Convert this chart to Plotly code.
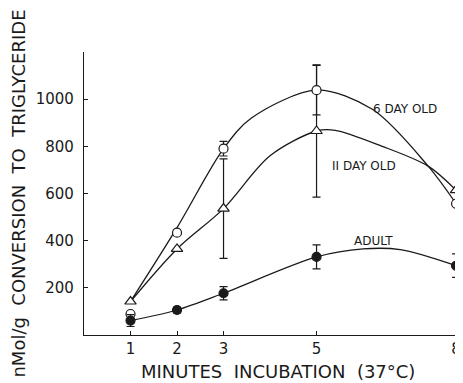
import plotly.graph_objects as go

# Data
minutes = [1, 2, 3, 5, 8]
six_day = [89, 434, 790, 1038, 557]
six_day_err = [0, 0, 31, 105, 0]
eleven_day = [142, 365, 536, 865, 614]
eleven_day_err = [0, 0, 211, 280, 0]
adult = [61, 106, 177, 331, 294]
adult_err = [25, 12, 28, 51, 50]

# Hand-drawn fitted curves
six_curve_x = [1, 2, 3, 3.6, 5, 6.2, 7.4, 8]
six_curve_y = [142, 455, 790, 920, 1038, 957, 716, 557]
eleven_curve_x = [1, 2, 3, 4, 5, 5.4, 6.4, 7.4, 8]
eleven_curve_y = [142, 365, 536, 760, 865, 868, 801, 716, 614]
adult_curve_x = [1, 2, 3, 5, 6, 6.8, 8]
adult_curve_y = [61, 106, 177, 331, 365, 362, 294]

x_ticks = [1, 2, 3, 5, 8]
y_ticks = [200, 400, 600, 800, 1000]

labels = ["6 DAY OLD", "II DAY OLD", "ADULT"]
label_x = [6.9, 6.02, 6.22]
label_y = [957, 715, 400]

x_title = "MINUTES  INCUBATION  (37°C)"
y_title = "nMol/g  CONVERSION  TO  TRIGLYCERIDE"

FONT = "DejaVu Sans"
ink = "#1a1a1a"

fig = go.Figure()
for cx, cy in [(six_curve_x, six_curve_y), (eleven_curve_x, eleven_curve_y), (adult_curve_x, adult_curve_y)]:
    fig.add_trace(go.Scatter(x=cx, y=cy, mode="lines",
                             line=dict(color=ink, width=1.3, shape="spline", smoothing=0.9),
                             hoverinfo="skip", showlegend=False, cliponaxis=False))

def pts(y, err, symbol, fill, size):
    return go.Scatter(
        x=minutes, y=y, mode="markers",
        marker=dict(symbol=symbol, size=size, color=fill, line=dict(color=ink, width=1.2)),
        error_y=dict(type="data", array=err, visible=True, color=ink, thickness=1.2, width=4),
        showlegend=False, cliponaxis=False)

fig.add_trace(pts(eleven_day, eleven_day_err, "triangle-up", "white", 10))
fig.add_trace(pts(six_day, six_day_err, "circle", "white", 9))
fig.add_trace(pts(adult, adult_err, "circle", ink, 9))

for t, lx, ly in zip(labels, label_x, label_y):
    fig.add_annotation(x=lx, y=ly, text=t, showarrow=False,
                       font=dict(family=FONT, size=12, color=ink))

# x-axis title (slightly right of centre, as in the reference)
fig.add_annotation(xref="paper", yref="paper", x=0.5214, y=-0.1307, text=x_title,
                   showarrow=False, xanchor="center", yanchor="middle",
                   font=dict(family=FONT, size=18, color=ink))

# page body has an 8px margin, so the figure is sized/offset to compensate
fig.update_layout(
    width=455, height=375,
    margin=dict(l=76, r=6, t=44, b=48, autoexpand=False),
    paper_bgcolor="white", plot_bgcolor="white",
    font=dict(family=FONT, color=ink),
)
fig.update_xaxes(range=[0, 8.02], tickvals=x_ticks, ticktext=[str(v) for v in x_ticks],
                 automargin=False,
                 showgrid=False, zeroline=False, showline=True, linecolor=ink, linewidth=1.2,
                 ticks="inside", ticklen=4, tickcolor=ink, tickfont=dict(size=15))
fig.update_yaxes(range=[0, 1200], tickvals=y_ticks, automargin=False,
                 showgrid=False, zeroline=False, showline=True, linecolor=ink, linewidth=1.2,
                 ticks="inside", ticklen=4, tickcolor=ink, tickfont=dict(size=15),
                 ticklabelstandoff=6,
                 title=dict(text=y_title, font=dict(size=18), standoff=13))

fig.write_html("out.html")
